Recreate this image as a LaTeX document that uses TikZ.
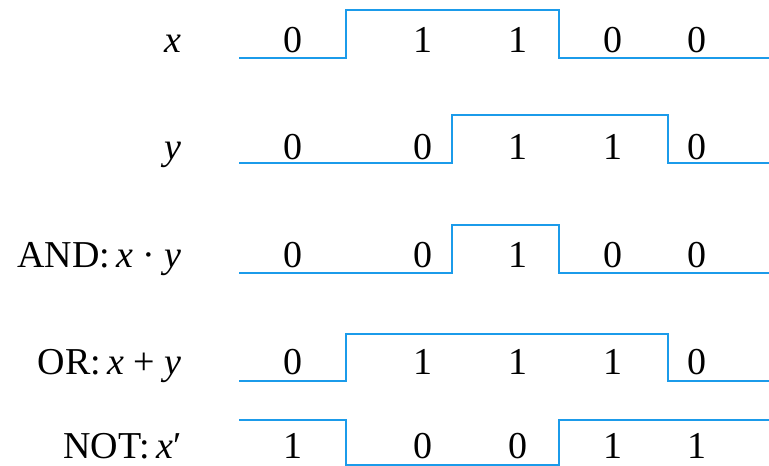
\documentclass[tikz,border=0pt]{standalone}
\usepackage{fontspec}
\setmainfont{Liberation Serif}
\usetikzlibrary{positioning}
\definecolor{onda}{HTML}{1B9BEA}

\begin{document}
\begin{tikzpicture}[
  x=1pt, y=-1pt,
  font=\fontsize{38}{42}\selectfont,
  senal/.style={draw=onda, line width=1.7pt},
  etiqueta/.style={anchor=base east, inner sep=0pt},
  bit/.style={anchor=base, inner sep=0pt, text depth=0pt},
]
\useasboundingbox (0,0) rectangle (769,466);

% --- Etiquetas ---
\node[etiqueta] (lx)   at (182,52)  {\textit{x}};
\node[etiqueta] (ly)   at (182,159) {\textit{y}};
\node[etiqueta] (land) at (182,267) {AND:\,\textit{x} · \textit{y}};
\node[etiqueta] (lor)  at (182,374) {OR:\,\textit{x} + \textit{y}};
\node[etiqueta, text depth=0pt] (lnot) at (182,458) {NOT:\,\textit{x}′};

% --- Formas de onda ---
\draw[senal] (239,58) -- (346,58) -- (346,10) -- (559,10) -- (559,58) -- (769,58);
\draw[senal] (239,163) -- (452,163) -- (452,115) -- (668,115) -- (668,163) -- (769,163);
\draw[senal] (239,273) -- (452,273) -- (452,225) -- (559,225) -- (559,273) -- (769,273);
\draw[senal] (239,381) -- (346,381) -- (346,334) -- (668,334) -- (668,381) -- (769,381);
\draw[senal] (239,420) -- (346,420) -- (346,465) -- (559,465) -- (559,420) -- (769,420);

% --- Valores: x ---
\node[bit] (x1) at (293,52) {0};
\node[bit] (x2) at (423,52) {1};
\node[bit] (x3) at (518,52) {1};
\node[bit] (x4) at (613,52) {0};
\node[bit] (x5) at (697,52) {0};

% --- Valores: y ---
\node[bit] (y1) at (293,159) {0};
\node[bit] (y2) at (423,159) {0};
\node[bit] (y3) at (518,159) {1};
\node[bit] (y4) at (613,159) {1};
\node[bit] (y5) at (697,159) {0};

% --- Valores: AND ---
\node[bit] (a1) at (293,267) {0};
\node[bit] (a2) at (423,267) {0};
\node[bit] (a3) at (518,267) {1};
\node[bit] (a4) at (613,267) {0};
\node[bit] (a5) at (697,267) {0};

% --- Valores: OR ---
\node[bit] (o1) at (293,374) {0};
\node[bit] (o2) at (423,374) {1};
\node[bit] (o3) at (518,374) {1};
\node[bit] (o4) at (613,374) {1};
\node[bit] (o5) at (697,374) {0};

% --- Valores: NOT ---
\node[bit] (n1) at (293,458) {1};
\node[bit] (n2) at (423,458) {0};
\node[bit] (n3) at (518,458) {0};
\node[bit] (n4) at (613,458) {1};
\node[bit] (n5) at (697,458) {1};

\end{tikzpicture}
\end{document}
